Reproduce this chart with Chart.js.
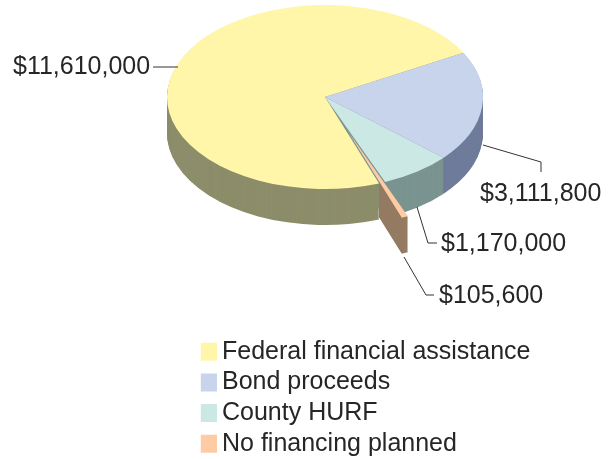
<!DOCTYPE html>
<html><head><meta charset="utf-8">
<style>html,body{margin:0;padding:0;background:#fff}canvas{display:block}</style>
<script src="https://cdn.jsdelivr.net/npm/chart.js@4"></script>
</head><body><canvas id="c" width="616" height="459"></canvas>
<script>
const categories = ["Federal financial assistance","Bond proceeds","County HURF","No financing planned"];
const amounts = [11610000,3111800,1170000,105600];
const topColors = ["#FFF6AA","#C8D4EC","#CBE8E5","#FFCBA4"];
const sideColors = ["#8C8D6A","#6F7B9A","#7A9490","#957B62"];
const slicePull = [0,0,0,63];
const SQUASH = 92/158, DEPTH = 36;
const TEXT = "#262626";
const callouts = [
  {text:[13,67], path:[[153,67],[178,67]]},
  {text:[480,194], path:[[483,145],[541,162],[541,172]]},
  {text:[441,244], path:[[417,207],[428,243],[437,243]]},
  {text:[439,296], path:[[404,257],[426,295],[434,295]]}
];
const fmt = v => "$" + v.toLocaleString("en-US");

function tilt(ctx, cy, drop){
  ctx.translate(0, cy + drop);
  ctx.scale(1, SQUASH);
  ctx.translate(0, -cy);
}
const pie3d = {
  id:"pie3d",
  afterLayout(chart){
    const l = chart.legend;
    const w = l.width, h = l.height;
    l.left = 200.8; l.top = 333.5; l.right = l.left + w; l.bottom = l.top + h;
  },
  beforeDatasetsDraw(chart){
    const ctx = chart.ctx, arcs = chart.getDatasetMeta(0).data;
    const cy = (chart.chartArea.top + chart.chartArea.bottom) / 2;
    arcs.forEach((a,i) => {
      if (!slicePull[i] || a.$pulled) return;
      const base = a.draw;
      a.$pulled = true;
      a.draw = function(c){
        const mid = (this.startAngle + this.endAngle) / 2;
        c.save();
        c.translate(Math.cos(mid) * slicePull[i], Math.sin(mid) * slicePull[i]);
        base.call(this, c);
        c.restore();
      };
    });
    const drawLayers = idx => {
      for (let d = DEPTH; d >= 1; d--) {
        ctx.save(); tilt(ctx, cy, d);
        idx.forEach(i => {
          const a = arcs[i], o = a.options;
          a.options = Object.assign({}, o, {backgroundColor: sideColors[i], borderWidth: 0});
          a.draw(ctx);
          a.options = o;
        });
        ctx.restore();
      }
    };
    const whole = [], pulled = [];
    slicePull.forEach((o,i) => (o ? pulled : whole).push(i));
    drawLayers(whole);
    // the pulled slice's wall only shows beyond the rim point it left behind
    pulled.forEach(i => {
      const a = arcs[i];
      const rimX = a.x + a.outerRadius * Math.cos(a.endAngle);
      ctx.save();
      ctx.beginPath();
      ctx.rect(rimX, 0, chart.width - rimX, chart.height);
      ctx.clip();
      drawLayers([i]);
      ctx.restore();
    });
    ctx.save(); tilt(ctx, cy, 0);
  },
  afterDatasetsDraw(chart){ chart.ctx.restore(); },
  afterDraw(chart){
    const ctx = chart.ctx;
    ctx.save();
    ctx.strokeStyle = "#333"; ctx.lineWidth = 1;
    ctx.fillStyle = TEXT; ctx.font = "25px 'Liberation Sans'";
    ctx.textBaseline = "middle"; ctx.textAlign = "left";
    callouts.forEach((c,i) => {
      ctx.beginPath();
      c.path.forEach((p,j) => j ? ctx.lineTo(p[0],p[1]) : ctx.moveTo(p[0],p[1]));
      ctx.stroke();
      ctx.fillText(fmt(amounts[i]), c.text[0], c.text[1]);
    });
    ctx.restore();
  }
};
new Chart(document.getElementById("c"), {
  type:"pie",
  data:{labels:categories, datasets:[{data:amounts, backgroundColor:topColors, borderWidth:0}]},
  options:{
    responsive:false, animation:false, rotation:160, radius:158,
    layout:{padding:{left:34,right:0,top:0,bottom:265}},
    plugins:{
      tooltip:{enabled:false},
      legend:{
        position:"chartArea", align:"start",
        labels:{usePointStyle:true, pointStyle:"rect", boxWidth:3, boxHeight:18, padding:5.7,
                color:TEXT, font:{family:"'Liberation Sans'", size:25}}
      }
    }
  },
  plugins:[pie3d]
});
</script></body></html>
